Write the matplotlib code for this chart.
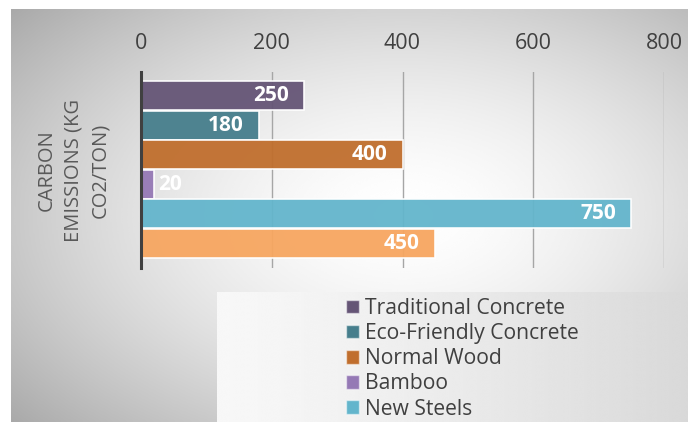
import numpy as np
import matplotlib.pyplot as plt
from matplotlib.patches import Patch

plt.rcParams['font.family'] = ['Open Sans', 'DejaVu Sans']

materials = ['Traditional Concrete', 'Eco-Friendly Concrete', 'Normal Wood',
             'Bamboo', 'New Steels', 'Recycled Steel']
emissions = [250, 180, 400, 20, 750, 450]
colors = ['#655576', '#467e8c', '#c06e2d', '#9579b5', '#63b5cc', '#f7a660']
legend_shown = 5
ticks = [0, 200, 400, 600, 800]
category = 'CARBON\nEMISSIONS (KG\nCO2/TON)'

W, H = 688, 422
fig = plt.figure(figsize=(W / 100, H / 100), dpi=100)

# radial grey background of the chart area
bg = fig.add_axes([11 / W, 0, 1 - 11 / W, 1 - 9 / H], zorder=-2)
yy, xx = np.mgrid[0:1:300j, 0:1:500j]
r = np.sqrt(((xx - 0.58) / 0.62) ** 2 + ((yy - 0.5) / 0.62) ** 2)
shade = 1 - 0.24 * np.clip(r, 0, 1.25) ** 1.6
bg.imshow(shade, cmap='gray', vmin=0, vmax=1, aspect='auto',
          extent=[0, 1, 0, 1], interpolation='bicubic')
bg.set_axis_off()

# legend panel
lg = fig.add_axes([217 / W, 0, 1 - 217 / W, 130 / H], zorder=-1)
lx = np.tile(np.linspace(0, 1, 600), (20, 1))
lg.imshow(0.97 - 0.12 * lx ** 1.3, cmap='gray', vmin=0, vmax=1, aspect='auto',
          extent=[0, 1, 0, 1], interpolation='bicubic')
lg.set_xlim(0, 1)
lg.set_ylim(0, 1)
lg.set_axis_off()

ax = fig.add_axes([141 / W, 1 - 268 / H, (664 - 141) / W, (268 - 72) / H])
ax.patch.set_alpha(0)
y = np.arange(len(emissions))
bars = ax.barh(y, emissions, height=0.98, color=colors, alpha=0.95,
               edgecolor=(1, 1, 1, 0.45), linewidth=1.2, zorder=3)

for b, v in zip(bars, emissions):
    cy = b.get_y() + b.get_height() / 2
    if v < 60:
        ax.annotate(str(v), (v, cy), xytext=(3, 0), textcoords='offset points',
                    ha='left', va='center', color='white', fontsize=15,
                    fontweight='bold', zorder=4)
    else:
        ax.annotate(str(v), (v, cy), xytext=(-11, 0), textcoords='offset points',
                    ha='right', va='center', color='white', fontsize=15,
                    fontweight='bold', zorder=4)

ax.set_xlim(0, 800)
ax.set_ylim(5.83, -0.805)
ax.set_xticks(ticks)
ax.xaxis.tick_top()
ax.tick_params(axis='x', length=0, pad=13, labelsize=15.5, labelcolor='#404040')
ax.set_yticks([])
ax.grid(axis='x', color='#a6a6a6', linewidth=1, zorder=1)
for s in ['top', 'right', 'bottom']:
    ax.spines[s].set_visible(False)
ax.spines['left'].set_color('#404040')
ax.spines['left'].set_linewidth(2.2)
ax.spines['left'].set_zorder(5)

fig.text(74 / W, 1 - 170 / H, category, rotation=90, ha='center', va='center',
         multialignment='center', fontsize=14.5, color='#595959', linespacing=1.45)

handles = [Patch(facecolor=c, edgecolor=(1, 1, 1, 0.5), linewidth=1)
           for c in colors[:legend_shown]]
fig.legend(handles, materials[:legend_shown], loc='upper left',
           bbox_to_anchor=(331 / W, 1 - 283 / H), frameon=False, fontsize=15.2,
           handlelength=0.62, handleheight=0.62, handletextpad=0.3,
           labelspacing=0.2, borderpad=0.2, labelcolor='#404040')

fig.savefig('out.png', dpi=100)
